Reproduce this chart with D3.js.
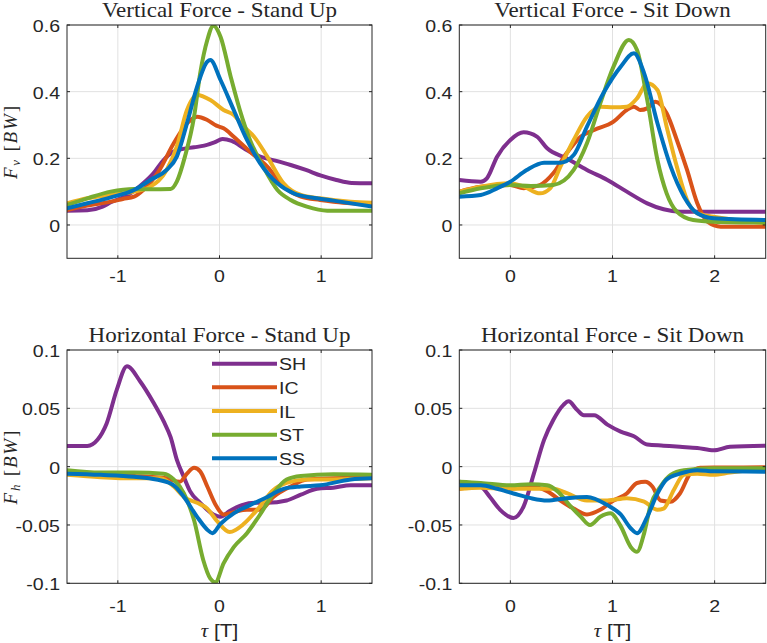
<!DOCTYPE html>
<html>
<head>
<meta charset="utf-8">
<script src="https://cdn.jsdelivr.net/npm/d3@7"></script>
<style>
  html, body { margin: 0; padding: 0; background: #fff; }
</style>
</head>
<body>
<div id="canvas"></div>
<script>
"use strict"

/***********************************
 DATA (tau [T], force [BW])
************************************/
const seriesNames = ["SH", "IC", "IL", "ST", "SS"];

// Vertical force - stand up
const vUpSH = [[-1.5,0.043],[-1.3,0.044],[-1.15,0.055],[-1.07,0.068],[-0.9,0.09],[-0.75,0.125],[-0.65,0.155],[-0.55,0.195],[-0.48,0.215],[-0.38,0.227],[-0.25,0.233],[-0.15,0.238],[-0.05,0.248],[0.03,0.258],[0.12,0.252],[0.25,0.228],[0.4,0.205],[0.55,0.193],[0.7,0.18],[0.85,0.165],[1.0,0.148],[1.15,0.135],[1.3,0.126],[1.5,0.125]];
const vUpIC = [[-1.5,0.045],[-1.3,0.058],[-1.07,0.07],[-0.95,0.078],[-0.84,0.085],[-0.75,0.105],[-0.6,0.16],[-0.45,0.245],[-0.32,0.305],[-0.22,0.325],[-0.12,0.315],[-0.03,0.298],[0.04,0.29],[0.14,0.265],[0.3,0.22],[0.47,0.175],[0.63,0.115],[0.8,0.085],[0.99,0.075],[1.12,0.07],[1.3,0.065],[1.5,0.06]];
const vUpIL = [[-1.5,0.065],[-1.3,0.08],[-1.07,0.09],[-0.84,0.1],[-0.68,0.115],[-0.52,0.165],[-0.42,0.235],[-0.32,0.345],[-0.22,0.39],[-0.09,0.375],[0.04,0.345],[0.14,0.33],[0.24,0.295],[0.34,0.265],[0.47,0.205],[0.63,0.125],[0.8,0.09],[0.99,0.08],[1.29,0.07],[1.5,0.067]];
const vUpST = [[-1.5,0.06],[-1.3,0.08],[-1.07,0.1],[-0.84,0.108],[-0.68,0.107],[-0.48,0.108],[-0.42,0.13],[-0.34,0.205],[-0.25,0.325],[-0.19,0.455],[-0.12,0.555],[-0.06,0.598],[0.01,0.565],[0.11,0.445],[0.2,0.345],[0.3,0.255],[0.43,0.175],[0.57,0.105],[0.7,0.075],[0.86,0.055],[1.06,0.043],[1.5,0.043]];
const vUpSS = [[-1.5,0.05],[-1.3,0.065],[-1.07,0.083],[-0.84,0.105],[-0.68,0.135],[-0.52,0.165],[-0.42,0.205],[-0.32,0.305],[-0.22,0.415],[-0.12,0.49],[-0.09,0.495],[0.01,0.435],[0.14,0.345],[0.27,0.255],[0.4,0.185],[0.57,0.125],[0.73,0.095],[0.96,0.08],[1.12,0.073],[1.5,0.055]];

// Vertical force - sit down
const vDownSH = [[-0.5,0.135],[-0.29,0.13],[-0.23,0.14],[-0.13,0.205],[0,0.255],[0.13,0.278],[0.26,0.265],[0.36,0.23],[0.55,0.2],[0.75,0.165],[0.95,0.135],[1.14,0.1],[1.34,0.065],[1.5,0.047],[1.66,0.04],[2.5,0.04]];
const vDownIC = [[-0.5,0.1],[-0.29,0.115],[0,0.12],[0.13,0.11],[0.29,0.12],[0.42,0.155],[0.55,0.215],[0.69,0.265],[0.82,0.285],[1.01,0.31],[1.14,0.345],[1.21,0.355],[1.27,0.345],[1.34,0.35],[1.42,0.37],[1.53,0.335],[1.63,0.255],[1.73,0.165],[1.83,0.065],[1.93,0.01],[2.06,-0.005],[2.5,-0.005]];
const vDownIL = [[-0.5,0.1],[-0.29,0.115],[0,0.125],[0.13,0.115],[0.29,0.095],[0.39,0.11],[0.49,0.175],[0.62,0.255],[0.75,0.325],[0.88,0.355],[1.01,0.353],[1.14,0.355],[1.24,0.38],[1.34,0.425],[1.44,0.405],[1.53,0.295],[1.63,0.175],[1.73,0.075],[1.83,0.035],[1.99,0.025],[2.5,0.005]];
const vDownST = [[-0.5,0.095],[-0.29,0.11],[0,0.12],[0.2,0.117],[0.42,0.12],[0.62,0.165],[0.75,0.245],[0.88,0.365],[1.01,0.475],[1.16,0.555],[1.24,0.525],[1.34,0.375],[1.44,0.195],[1.53,0.095],[1.63,0.04],[1.79,0.015],[1.99,0.01],[2.5,0.007]];
const vDownSS = [[-0.5,0.085],[-0.29,0.09],[-0.13,0.11],[0,0.13],[0.16,0.165],[0.33,0.187],[0.49,0.187],[0.62,0.21],[0.75,0.295],[0.91,0.395],[1.08,0.475],[1.21,0.515],[1.31,0.455],[1.44,0.305],[1.57,0.175],[1.7,0.085],[1.83,0.035],[1.99,0.02],[2.5,0.015]];

// Horizontal force - stand up
const hUpSH = [[-1.5,0.0177],[-1.3,0.0177],[-1.2,0.023],[-1.11,0.037],[-1.01,0.066],[-0.91,0.086],[-0.78,0.073],[-0.65,0.055],[-0.55,0.039],[-0.48,0.025],[-0.42,0.006],[-0.35,-0.009],[-0.29,-0.021],[-0.19,-0.031],[-0.06,-0.041],[0.01,-0.043],[0.1,-0.038],[0.22,-0.033],[0.35,-0.031],[0.47,-0.031],[0.66,-0.029],[0.8,-0.024],[0.96,-0.019],[1.12,-0.018],[1.29,-0.016],[1.5,-0.016]];
const hUpIC = [[-1.5,-0.006],[-1.17,-0.007],[-0.84,-0.008],[-0.52,-0.01],[-0.39,-0.013],[-0.32,-0.006],[-0.25,-0.001],[-0.19,-0.004],[-0.12,-0.017],[-0.03,-0.034],[0.04,-0.041],[0.14,-0.039],[0.27,-0.037],[0.4,-0.037],[0.53,-0.026],[0.7,-0.017],[0.86,-0.011],[1.12,-0.01],[1.5,-0.009]];
const hUpIL = [[-1.5,-0.007],[-1.17,-0.009],[-0.84,-0.01],[-0.58,-0.01],[-0.45,-0.017],[-0.35,-0.026],[-0.22,-0.031],[-0.12,-0.036],[-0.03,-0.046],[0.1,-0.056],[0.24,-0.049],[0.37,-0.037],[0.53,-0.02],[0.66,-0.014],[0.86,-0.011],[1.12,-0.011],[1.5,-0.01]];
const hUpST = [[-1.5,-0.003],[-1.17,-0.005],[-0.84,-0.005],[-0.55,-0.006],[-0.45,-0.011],[-0.35,-0.023],[-0.25,-0.046],[-0.16,-0.08],[-0.09,-0.096],[-0.04,-0.099],[0.04,-0.083],[0.14,-0.069],[0.27,-0.057],[0.4,-0.041],[0.53,-0.023],[0.66,-0.011],[0.8,-0.008],[1.12,-0.0066],[1.5,-0.007]];
const hUpSS = [[-1.5,-0.006],[-1.17,-0.007],[-0.84,-0.0086],[-0.62,-0.011],[-0.45,-0.016],[-0.35,-0.026],[-0.22,-0.043],[-0.12,-0.054],[-0.07,-0.057],[0.01,-0.049],[0.14,-0.04],[0.3,-0.033],[0.47,-0.026],[0.63,-0.019],[0.8,-0.017],[0.99,-0.016],[1.29,-0.011],[1.5,-0.01]];

// Horizontal force - sit down
const hDownSH = [[-0.5,-0.013],[-0.29,-0.017],[-0.2,-0.026],[-0.1,-0.037],[0.03,-0.044],[0.13,-0.034],[0.23,-0.006],[0.33,0.023],[0.42,0.04],[0.52,0.053],[0.57,0.056],[0.65,0.049],[0.72,0.044],[0.82,0.044],[0.95,0.036],[1.08,0.03],[1.21,0.026],[1.34,0.019],[1.5,0.018],[1.66,0.017],[1.83,0.016],[1.99,0.014],[2.15,0.017],[2.5,0.018]];
const hDownIC = [[-0.5,-0.019],[-0.29,-0.017],[0,-0.019],[0.2,-0.017],[0.36,-0.021],[0.49,-0.029],[0.62,-0.036],[0.75,-0.041],[0.88,-0.037],[1.01,-0.029],[1.14,-0.023],[1.24,-0.014],[1.32,-0.013],[1.39,-0.017],[1.47,-0.029],[1.57,-0.03],[1.66,-0.023],[1.76,-0.006],[1.86,-0.001],[1.99,-0.0008],[2.5,-0.0006]];
const hDownIL = [[-0.5,-0.019],[-0.29,-0.018],[-0.03,-0.019],[0.2,-0.019],[0.42,-0.019],[0.56,-0.023],[0.75,-0.029],[0.95,-0.029],[1.14,-0.027],[1.31,-0.03],[1.44,-0.037],[1.5,-0.036],[1.6,-0.02],[1.7,-0.007],[1.83,-0.006],[1.99,-0.007],[2.15,-0.005],[2.5,-0.0014]];
const hDownST = [[-0.5,-0.013],[-0.29,-0.014],[0,-0.016],[0.2,-0.015],[0.36,-0.016],[0.46,-0.021],[0.59,-0.034],[0.69,-0.043],[0.78,-0.05],[0.88,-0.043],[0.98,-0.04],[1.08,-0.051],[1.18,-0.069],[1.24,-0.073],[1.31,-0.057],[1.37,-0.034],[1.47,-0.017],[1.57,-0.007],[1.7,-0.003],[1.99,-0.0014],[2.5,-0.0014]];
const hDownSS = [[-0.5,-0.016],[-0.29,-0.016],[-0.13,-0.019],[0.03,-0.023],[0.2,-0.027],[0.36,-0.029],[0.55,-0.027],[0.75,-0.026],[0.95,-0.033],[1.08,-0.041],[1.18,-0.053],[1.24,-0.057],[1.34,-0.043],[1.44,-0.023],[1.53,-0.011],[1.66,-0.006],[1.83,-0.003],[1.99,-0.004],[2.5,-0.0043]];

// Axis limits and ticks
const upDomain = [-1.5, 1.5];
const downDomain = [-0.5, 2.5];
const upTicks = [-1, 0, 1];
const downTicks = [0, 1, 2];
const vDomain = [-0.1, 0.6];
const vTicks = [0, 0.2, 0.4, 0.6];
const hDomain = [-0.1, 0.1];
const hTicks = [-0.1, -0.05, 0, 0.05, 0.1];

/***********************************
 STYLE / LAYOUT
************************************/
const svgWidth = 767;
const svgHeight = 643;
const colors = ["#7E2F8E", "#D95319", "#EDB120", "#77AC30", "#0072BD"];
const axisColor = "#262626";
const gridColor = "#e1e1e1";
const sans = "'Liberation Sans', Arial, sans-serif";
const serif = "'Liberation Serif', 'Times New Roman', serif";
const stretch = 1.15; // text in the figure is a bit wider than normal
const tickLen = 3;
const lineWidth = 4;

const panels = [
    { title: "Vertical Force - Stand Up", left: 67, right: 372, top: 25, bottom: 258.3,
      xDomain: upDomain, xTicks: upTicks, yDomain: vDomain, yTicks: vTicks,
      data: [vUpSH, vUpIC, vUpIL, vUpST, vUpSS], yLabel: "v", xLabel: false, xLabelGap: 24 },
    { title: "Vertical Force - Sit Down", left: 459.3, right: 765.7, top: 25, bottom: 258.3,
      xDomain: downDomain, xTicks: downTicks, yDomain: vDomain, yTicks: vTicks,
      data: [vDownSH, vDownIC, vDownIL, vDownST, vDownSS], yLabel: null, xLabel: false, xLabelGap: 24 },
    { title: "Horizontal Force - Stand Up", left: 67, right: 372, top: 350, bottom: 583.3,
      xDomain: upDomain, xTicks: upTicks, yDomain: hDomain, yTicks: hTicks,
      data: [hUpSH, hUpIC, hUpIL, hUpST, hUpSS], yLabel: "h", xLabel: true, xLabelGap: 28.5, legend: true },
    { title: "Horizontal Force - Sit Down", left: 459.3, right: 765.7, top: 350, bottom: 583.3,
      xDomain: downDomain, xTicks: downTicks, yDomain: hDomain, yTicks: hTicks,
      data: [hDownSH, hDownIC, hDownIL, hDownST, hDownSS], yLabel: null, xLabel: true, xLabelGap: 28.5 }
];

/***********************************
 CREATE SVG CANVAS
************************************/
let svg = d3.select("#canvas")
    .append("svg")
    .attr("width", svgWidth)
    .attr("height", svgHeight)
    .style("display", "block");

svg.append("rect")
    .attr("width", svgWidth)
    .attr("height", svgHeight)
    .attr("fill", "#fff");

// text helper: stretched horizontally like the original
function addText(g, x, y, str, size, family, anchor) {
    return g.append("text")
        .attr("transform", `translate(${x},${y}) scale(${stretch},1)`)
        .attr("text-anchor", anchor)
        .attr("font-family", family)
        .attr("font-size", size)
        .attr("fill", axisColor)
        .text(str);
}

/***********************************
 DRAW PANELS
************************************/
panels.forEach((p, i) => {
    let g = svg.append("g");

    let xScale = d3.scaleLinear().domain(p.xDomain).range([p.left, p.right]);
    let yScale = d3.scaleLinear().domain(p.yDomain).range([p.bottom, p.top]);

    // grid
    g.selectAll(".gx")
        .data(p.xTicks)
        .join("line")
        .attr("x1", d => xScale(d)).attr("x2", d => xScale(d))
        .attr("y1", p.top).attr("y2", p.bottom)
        .attr("stroke", gridColor).attr("stroke-width", 1);

    g.selectAll(".gy")
        .data(p.yTicks)
        .join("line")
        .attr("x1", p.left).attr("x2", p.right)
        .attr("y1", d => yScale(d)).attr("y2", d => yScale(d))
        .attr("stroke", gridColor).attr("stroke-width", 1);

    // lines, clipped to the axes box
    let clipId = "clip" + i;
    svg.append("clipPath")
        .attr("id", clipId)
        .append("rect")
        .attr("x", p.left).attr("y", p.top)
        .attr("width", p.right - p.left)
        .attr("height", p.bottom - p.top);

    let line = d3.line()
        .x(d => xScale(d[0]))
        .y(d => yScale(d[1]))
        .curve(d3.curveMonotoneX);

    g.append("g")
        .attr("clip-path", `url(#${clipId})`)
        .selectAll("path")
        .data(p.data)
        .join("path")
        .attr("d", line)
        .attr("fill", "none")
        .attr("stroke", (d, k) => colors[k])
        .attr("stroke-width", lineWidth)
        .attr("stroke-linejoin", "round")
        .attr("stroke-linecap", "round");

    // axes box
    g.append("rect")
        .attr("x", p.left).attr("y", p.top)
        .attr("width", p.right - p.left)
        .attr("height", p.bottom - p.top)
        .attr("fill", "none")
        .attr("stroke", axisColor)
        .attr("stroke-width", 1);

    // inward ticks on all four sides
    p.xTicks.forEach(t => {
        let x = xScale(t);
        g.append("line").attr("x1", x).attr("x2", x).attr("y1", p.bottom).attr("y2", p.bottom - tickLen)
            .attr("stroke", axisColor);
        g.append("line").attr("x1", x).attr("x2", x).attr("y1", p.top).attr("y2", p.top + tickLen)
            .attr("stroke", axisColor);
        addText(g, x, p.bottom + p.xLabelGap, String(t), 17, sans, "middle");
    });

    p.yTicks.forEach(t => {
        let y = yScale(t);
        g.append("line").attr("x1", p.left).attr("x2", p.left + tickLen).attr("y1", y).attr("y2", y)
            .attr("stroke", axisColor);
        g.append("line").attr("x1", p.right).attr("x2", p.right - tickLen).attr("y1", y).attr("y2", y)
            .attr("stroke", axisColor);
        addText(g, p.left - 7, y + 7, String(t), 17, sans, "end");
    });

    // title
    addText(g, (p.left + p.right) / 2, p.top - 8.5, p.title, 20, serif, "middle");

    // y label  F_v [BW] / F_h [BW]
    if (p.yLabel) {
        let yl = g.append("text")
            .attr("transform", `translate(17,${(p.top + p.bottom) / 2}) rotate(-90)`)
            .attr("text-anchor", "middle")
            .attr("font-family", serif)
            .attr("font-size", 19)
            .attr("letter-spacing", 1.8)
            .attr("fill", axisColor);
        yl.append("tspan").attr("font-style", "italic").text("F");
        yl.append("tspan").attr("font-style", "italic").attr("font-size", 13).attr("dy", 3).text(p.yLabel);
        yl.append("tspan").attr("dy", -3).text(" [");
        yl.append("tspan").attr("font-style", "italic").text("BW");
        yl.append("tspan").text("]");
    }

    // x label  tau [T]
    if (p.xLabel) {
        let xl = g.append("text")
            .attr("transform", `translate(${(p.left + p.right) / 2},637) scale(${stretch},1)`)
            .attr("text-anchor", "middle")
            .attr("font-size", 18)
            .attr("fill", axisColor);
        xl.append("tspan").attr("font-family", serif).attr("font-style", "italic").text("\u03C4");
        xl.append("tspan").attr("font-family", sans).text(" [T]");
    }

    // legend (no box)
    if (p.legend) {
        let lg = g.append("g");
        seriesNames.forEach((name, k) => {
            let y = 363.7 + k * 23.65;
            lg.append("line")
                .attr("x1", 212).attr("x2", 277)
                .attr("y1", y).attr("y2", y)
                .attr("stroke", colors[k])
                .attr("stroke-width", lineWidth);
            addText(lg, 279, y + 6.5, name, 17, sans, "start");
        });
    }
});
</script>
</body>
</html>
